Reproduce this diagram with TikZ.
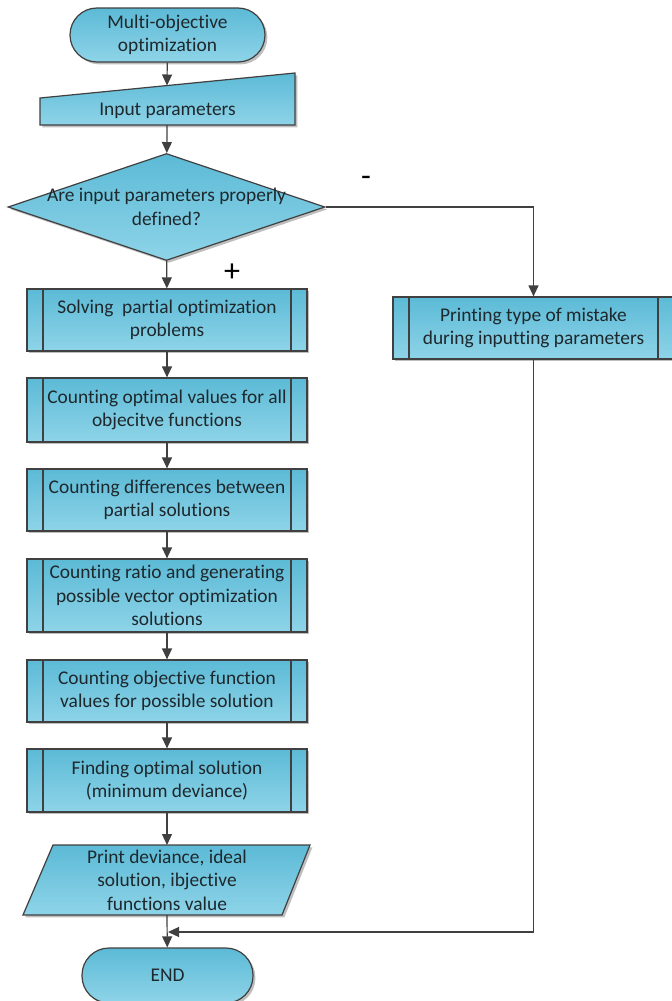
\documentclass[tikz,border=0pt]{standalone}
\usepackage{fontspec}
\setmainfont[Ligatures=NoCommon]{Carlito}
\usetikzlibrary{arrows.meta,shapes.geometric,shadows}

\definecolor{boxtop}{RGB}{92,186,214}
\definecolor{boxbot}{RGB}{142,212,232}
\definecolor{edge}{RGB}{64,64,64}
\definecolor{ink}{RGB}{30,40,45}

\tikzset{
  block/.style={draw=edge, line width=0.6pt, top color=boxtop, bottom color=boxbot,
    drop shadow={shadow xshift=1.2pt, shadow yshift=-1.2pt, fill=black!50, opacity=0.5},
    align=center, inner sep=0pt, text=ink},
  subproc/.style={block, minimum width=140pt, minimum height=#1,
    path picture={
      \draw[edge, line width=0.6pt] ([xshift=8pt]path picture bounding box.north west) -- ([xshift=8pt]path picture bounding box.south west);
      \draw[edge, line width=0.6pt] ([xshift=-8pt]path picture bounding box.north east) -- ([xshift=-8pt]path picture bounding box.south east);}},
  terminal/.style={block, rounded corners=13.5pt, minimum height=27.5pt},
  flow/.style={draw=edge, line width=0.6pt, -{Triangle[length=5.5pt,width=5pt]}},
  sign/.style={font=\fontsize{16}{16}\selectfont, text=black},
}

\begin{document}
\begin{tikzpicture}[x=0.5pt, y=-0.5pt, font=\fontsize{9.7}{11.8}\selectfont]
  \useasboundingbox (0,0) rectangle (672,1001);

  % start and input
  \node[terminal, minimum width=97.5pt, minimum height=27pt] (start) at (167.5,35) {Multi-objective\\optimization};

  \path[block] (40,98) -- (295,73) -- (295,125) -- (40,125) -- cycle;
  \node[text=ink] (inp) at (167.5,111) {Input parameters};
  \coordinate (inptop) at (167,85.5);
  \coordinate (inpbot) at (167,125);

  % decision
  \node[block, diamond, minimum width=158.5pt, minimum height=53.5pt] (chk) at (166.5,207) {};
  \node[text=ink, align=center] (chktext) at (chk) {Are input parameters properly\\defined?};

  % subprocesses
  \node[subproc=31pt] (s1) at (167,320) {Solving \ partial optimization\\problems};
  \node[subproc=32pt] (s2) at (167,410) {Counting optimal values for all\\objecitve functions};
  \node[subproc=31pt] (s3) at (167,500) {Counting differences between\\partial solutions};
  \node[subproc=36.5pt] (s4) at (167,595.5) {Counting ratio and generating\\possible vector optimization\\solutions};
  \node[subproc=31pt] (s5) at (167,691) {Counting objective function\\values for possible solution};
  \node[subproc=31.5pt] (s6) at (167,780.5) {Finding optimal solution\\(minimum deviance)};

  \node[subproc=31pt, minimum width=140.5pt] (err) at (533.5,328) {Printing type of mistake\\during inputting parameters};

  % output and end
  \path[block] (23,915) -- (53,845) -- (310,845) -- (282,915) -- cycle;
  \node[text=ink, align=center] (prn) at (167,880) {Print deviance, ideal\\solution, ibjective\\functions value};
  \coordinate (prntop) at (167,845);
  \coordinate (prnbot) at (167,915);

  \node[terminal, minimum width=85.5pt] (fin) at (167.5,975.5) {END};

  % connectors
  \draw[flow] (start) -- (inptop);
  \draw[flow] (inpbot) -- (chk);
  \draw[flow] (chk) -- (s1);
  \draw[flow] (chk.east) -| (err.north);
  \draw[flow] (s1) -- (s2);
  \draw[flow] (s2) -- (s3);
  \draw[flow] (s3) -- (s4);
  \draw[flow] (s4) -- (s5);
  \draw[flow] (s5) -- (s6);
  \draw[flow] (s6) -- (prntop);
  \draw[flow] (prnbot) -- (fin);
  \coordinate (join) at (168,932);
  \draw[flow] (err.south) |- (join);

  \node[sign] (plus) at (232,273) {+};
  \node[sign] (minus) at (366,181) {-};
\end{tikzpicture}
\end{document}
